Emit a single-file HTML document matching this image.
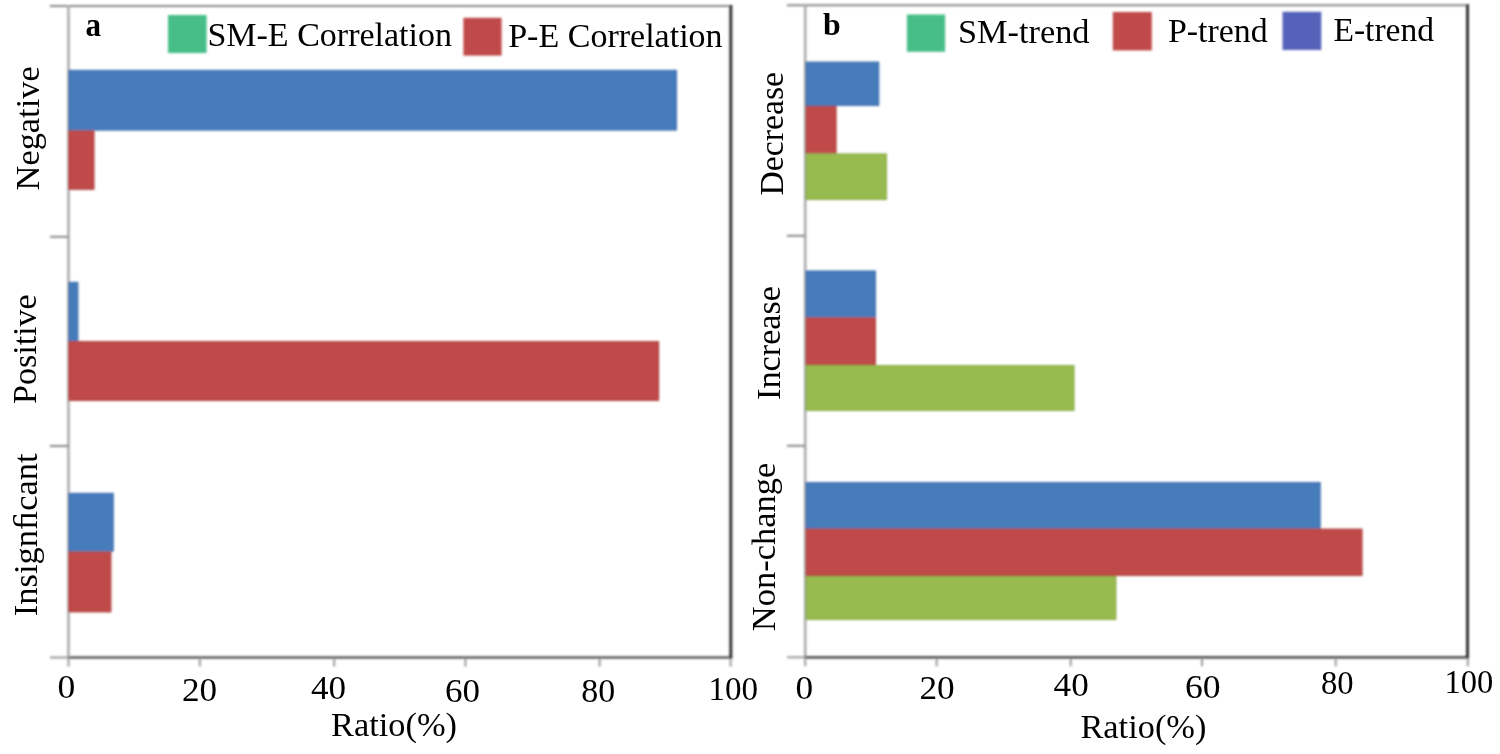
<!DOCTYPE html>
<html><head><meta charset="utf-8"><style>
html,body{margin:0;padding:0;background:#fff;overflow:hidden;width:1500px;height:754px;}
svg{display:block;}
text{font-family:"Liberation Serif",serif;fill:#000;}
</style></head><body>
<svg width="1500" height="754" viewBox="0 0 1500 754">
<rect width="1500" height="754" fill="#fff"/>
<defs><filter id="sb" x="-5%" y="-5%" width="110%" height="110%"><feGaussianBlur stdDeviation="0.8"/></filter><filter id="tb" x="-5%" y="-5%" width="110%" height="110%"><feGaussianBlur stdDeviation="0.4"/></filter></defs>
<g filter="url(#sb)">
<line x1="50" y1="6" x2="732.3" y2="6" stroke="#888888" stroke-width="2"/>
<line x1="68.5" y1="5" x2="68.5" y2="657.5" stroke="#a8a8a8" stroke-width="2.5"/>
<line x1="50" y1="657.5" x2="68.5" y2="657.5" stroke="#999999" stroke-width="2"/>
<line x1="68.5" y1="657.5" x2="732.3" y2="657.5" stroke="#363636" stroke-width="2.2"/>
<line x1="730.8" y1="5" x2="730.8" y2="658.5" stroke="#333333" stroke-width="3"/>
<line x1="50" y1="236.8" x2="68.5" y2="236.8" stroke="#888888" stroke-width="2"/>
<line x1="50" y1="446" x2="68.5" y2="446" stroke="#888888" stroke-width="2"/>
<line x1="68.5" y1="658.5" x2="68.5" y2="666.5" stroke="#999999" stroke-width="2"/>
<line x1="199.8" y1="658.5" x2="199.8" y2="666.5" stroke="#999999" stroke-width="2"/>
<line x1="334.2" y1="658.5" x2="334.2" y2="666.5" stroke="#999999" stroke-width="2"/>
<line x1="465.4" y1="658.5" x2="465.4" y2="666.5" stroke="#999999" stroke-width="2"/>
<line x1="599.6" y1="658.5" x2="599.6" y2="666.5" stroke="#999999" stroke-width="2"/>
<line x1="730.6" y1="658.5" x2="730.6" y2="666.5" stroke="#999999" stroke-width="2"/>
<line x1="787" y1="5.3" x2="1469.0" y2="5.3" stroke="#888888" stroke-width="2"/>
<line x1="805.2" y1="4.3" x2="805.2" y2="657.3" stroke="#a8a8a8" stroke-width="2.5"/>
<line x1="787" y1="657.3" x2="805.2" y2="657.3" stroke="#999999" stroke-width="2"/>
<line x1="805.2" y1="657.3" x2="1469.0" y2="657.3" stroke="#363636" stroke-width="2.2"/>
<line x1="1467.5" y1="4.3" x2="1467.5" y2="658.3" stroke="#333333" stroke-width="3"/>
<line x1="787" y1="235.8" x2="805.2" y2="235.8" stroke="#888888" stroke-width="2"/>
<line x1="787" y1="445.8" x2="805.2" y2="445.8" stroke="#888888" stroke-width="2"/>
<line x1="805.2" y1="658.3" x2="805.2" y2="666.3" stroke="#999999" stroke-width="2"/>
<line x1="936.7" y1="658.3" x2="936.7" y2="666.3" stroke="#999999" stroke-width="2"/>
<line x1="1070.7" y1="658.3" x2="1070.7" y2="666.3" stroke="#999999" stroke-width="2"/>
<line x1="1202" y1="658.3" x2="1202" y2="666.3" stroke="#999999" stroke-width="2"/>
<line x1="1335.7" y1="658.3" x2="1335.7" y2="666.3" stroke="#999999" stroke-width="2"/>
<line x1="1467.8" y1="658.3" x2="1467.8" y2="666.3" stroke="#999999" stroke-width="2"/>
<rect x="68.30" y="69.90" width="608.70" height="60.60" fill="#467CBB"/>
<rect x="68.80" y="70.40" width="607.70" height="59.60" fill="none" stroke="#3A68A3" stroke-opacity="0.6" stroke-width="1"/>
<rect x="68.30" y="130.50" width="26.10" height="59.30" fill="#C04A48"/>
<rect x="68.80" y="131.00" width="25.10" height="58.30" fill="none" stroke="#A33D3C" stroke-opacity="0.6" stroke-width="1"/>
<rect x="68.30" y="281.90" width="10.00" height="59.20" fill="#467CBB"/>
<rect x="68.80" y="282.40" width="9.00" height="58.20" fill="none" stroke="#3A68A3" stroke-opacity="0.6" stroke-width="1"/>
<rect x="68.30" y="341.10" width="590.80" height="59.90" fill="#C04A48"/>
<rect x="68.80" y="341.60" width="589.80" height="58.90" fill="none" stroke="#A33D3C" stroke-opacity="0.6" stroke-width="1"/>
<rect x="68.30" y="492.90" width="45.40" height="58.70" fill="#467CBB"/>
<rect x="68.80" y="493.40" width="44.40" height="57.70" fill="none" stroke="#3A68A3" stroke-opacity="0.6" stroke-width="1"/>
<rect x="68.30" y="551.60" width="43.00" height="60.70" fill="#C04A48"/>
<rect x="68.80" y="552.10" width="42.00" height="59.70" fill="none" stroke="#A33D3C" stroke-opacity="0.6" stroke-width="1"/>
<rect x="805.60" y="61.70" width="73.60" height="44.30" fill="#467CBB"/>
<rect x="806.10" y="62.20" width="72.60" height="43.30" fill="none" stroke="#3A68A3" stroke-opacity="0.6" stroke-width="1"/>
<rect x="805.60" y="106.00" width="30.90" height="47.50" fill="#C04A48"/>
<rect x="806.10" y="106.50" width="29.90" height="46.50" fill="none" stroke="#A33D3C" stroke-opacity="0.6" stroke-width="1"/>
<rect x="805.60" y="153.50" width="81.40" height="46.50" fill="#98BB50"/>
<rect x="806.10" y="154.00" width="80.40" height="45.50" fill="none" stroke="#809C42" stroke-opacity="0.6" stroke-width="1"/>
<rect x="805.60" y="270.60" width="70.40" height="46.90" fill="#467CBB"/>
<rect x="806.10" y="271.10" width="69.40" height="45.90" fill="none" stroke="#3A68A3" stroke-opacity="0.6" stroke-width="1"/>
<rect x="805.60" y="317.50" width="70.40" height="47.50" fill="#C04A48"/>
<rect x="806.10" y="318.00" width="69.40" height="46.50" fill="none" stroke="#A33D3C" stroke-opacity="0.6" stroke-width="1"/>
<rect x="805.60" y="365.00" width="268.80" height="46.00" fill="#98BB50"/>
<rect x="806.10" y="365.50" width="267.80" height="45.00" fill="none" stroke="#809C42" stroke-opacity="0.6" stroke-width="1"/>
<rect x="805.60" y="482.00" width="515.00" height="46.70" fill="#467CBB"/>
<rect x="806.10" y="482.50" width="514.00" height="45.70" fill="none" stroke="#3A68A3" stroke-opacity="0.6" stroke-width="1"/>
<rect x="805.60" y="528.70" width="556.80" height="47.30" fill="#C04A48"/>
<rect x="806.10" y="529.20" width="555.80" height="46.30" fill="none" stroke="#A33D3C" stroke-opacity="0.6" stroke-width="1"/>
<rect x="805.60" y="576.00" width="310.70" height="44.00" fill="#98BB50"/>
<rect x="806.10" y="576.50" width="309.70" height="43.00" fill="none" stroke="#809C42" stroke-opacity="0.6" stroke-width="1"/>
<rect x="168.00" y="15.00" width="38.60" height="38.00" fill="#46BE87"/>
<rect x="463.40" y="17.80" width="38.20" height="37.80" fill="#C04A48"/>
<rect x="906.90" y="14.50" width="38.20" height="37.30" fill="#46BE87"/>
<rect x="1112.80" y="12.00" width="39.00" height="38.40" fill="#C04A48"/>
<rect x="1282.50" y="11.80" width="38.80" height="38.20" fill="#5562B9"/>
</g>
<g filter="url(#tb)">
<text x="85.60" y="36.30" font-size="33" font-weight="bold" textLength="15.56" lengthAdjust="spacingAndGlyphs">a</text>
<text x="823.00" y="34.60" font-size="32" font-weight="bold" textLength="17.68" lengthAdjust="spacingAndGlyphs">b</text>
<text x="207.40" y="46.40" font-size="34" font-weight="normal" textLength="244.62" lengthAdjust="spacingAndGlyphs">SM-E Correlation</text>
<text x="508.20" y="47.40" font-size="34" font-weight="normal" textLength="214.42" lengthAdjust="spacingAndGlyphs">P-E Correlation</text>
<text x="958.00" y="42.70" font-size="34" font-weight="normal" textLength="131.47" lengthAdjust="spacingAndGlyphs">SM-trend</text>
<text x="1168.00" y="42.40" font-size="34" font-weight="normal" textLength="99.62" lengthAdjust="spacingAndGlyphs">P-trend</text>
<text x="1333.40" y="40.70" font-size="34" font-weight="normal" textLength="100.63" lengthAdjust="spacingAndGlyphs">E-trend</text>
<text x="57.40" y="698.00" font-size="34" font-weight="normal" textLength="17.82" lengthAdjust="spacingAndGlyphs">0</text>
<text x="182.00" y="701.30" font-size="34" font-weight="normal" textLength="35.13" lengthAdjust="spacingAndGlyphs">20</text>
<text x="311.00" y="698.50" font-size="34" font-weight="normal" textLength="35.13" lengthAdjust="spacingAndGlyphs">40</text>
<text x="445.00" y="702.30" font-size="34" font-weight="normal" textLength="35.02" lengthAdjust="spacingAndGlyphs">60</text>
<text x="581.20" y="702.30" font-size="34" font-weight="normal" textLength="33.95" lengthAdjust="spacingAndGlyphs">80</text>
<text x="708.40" y="700.20" font-size="34" font-weight="normal" textLength="49.57" lengthAdjust="spacingAndGlyphs">100</text>
<text x="795.60" y="699.10" font-size="34" font-weight="normal" textLength="17.66" lengthAdjust="spacingAndGlyphs">0</text>
<text x="919.40" y="699.20" font-size="34" font-weight="normal" textLength="35.26" lengthAdjust="spacingAndGlyphs">20</text>
<text x="1053.60" y="696.40" font-size="34" font-weight="normal" textLength="35.13" lengthAdjust="spacingAndGlyphs">40</text>
<text x="1185.00" y="698.00" font-size="34" font-weight="normal" textLength="35.59" lengthAdjust="spacingAndGlyphs">60</text>
<text x="1321.00" y="693.80" font-size="34" font-weight="normal" textLength="32.63" lengthAdjust="spacingAndGlyphs">80</text>
<text x="1444.60" y="692.70" font-size="34" font-weight="normal" textLength="48.77" lengthAdjust="spacingAndGlyphs">100</text>
<text x="331.00" y="735.70" font-size="34" font-weight="normal" textLength="126.03" lengthAdjust="spacingAndGlyphs">Ratio(%)</text>
<text x="1080.40" y="738.00" font-size="34" font-weight="normal" textLength="126.04" lengthAdjust="spacingAndGlyphs">Ratio(%)</text>
<text transform="translate(38.50,190.40) rotate(-90)" font-size="34" font-weight="normal" textLength="124.03" lengthAdjust="spacingAndGlyphs">Negative</text>
<text transform="translate(36.20,404.00) rotate(-90)" font-size="34" font-weight="normal" textLength="109.66" lengthAdjust="spacingAndGlyphs">Positive</text>
<text transform="translate(36.70,616.20) rotate(-90)" font-size="34" font-weight="normal" textLength="162.82" lengthAdjust="spacingAndGlyphs">Insignﬁcant</text>
<text transform="translate(783.40,195.60) rotate(-90)" font-size="34" font-weight="normal" textLength="123.63" lengthAdjust="spacingAndGlyphs">Decrease</text>
<text transform="translate(780.30,400.00) rotate(-90)" font-size="34" font-weight="normal" textLength="114.06" lengthAdjust="spacingAndGlyphs">Increase</text>
<text transform="translate(774.70,631.20) rotate(-90)" font-size="34" font-weight="normal" textLength="168.45" lengthAdjust="spacingAndGlyphs">Non-change</text>
</g>
</svg>
</body></html>
